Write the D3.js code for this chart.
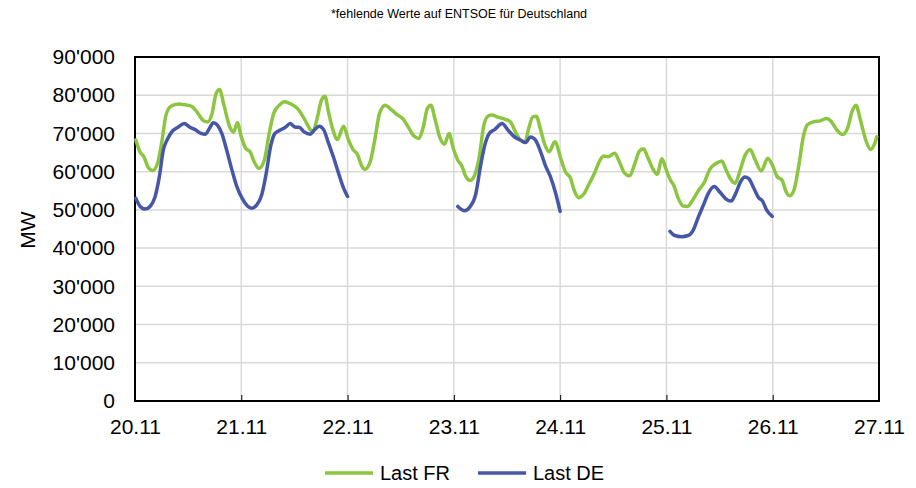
<!DOCTYPE html>
<html>
<head>
<meta charset="utf-8">
<script src="https://cdn.jsdelivr.net/npm/d3@7"></script>
<style>
  body { margin: 0; background: #fff; }
  svg { font-family: "Liberation Sans", Arial, sans-serif; }
</style>
</head>
<body>
<svg id="chart" width="916" height="488"></svg>
<script>
// hours since 20.11 00:00, load in 1000 MW
var dayLabels = ['20.11', '21.11', '22.11', '23.11', '24.11', '25.11', '26.11', '27.11']
var yTicks = [0, 10, 20, 30, 40, 50, 60, 70, 80, 90]

var frHours = [0.2, 1.1, 2.0, 3.0, 4.0, 5.1, 6.0, 7.0, 8.1, 9.8, 11.3, 12.8, 14.0, 15.5, 16.4, 17.4, 18.3, 19.1, 20.0, 21.4, 22.3, 23.1,
  24.0, 25.0, 26.0, 26.9, 28.0, 29.2, 30.3, 31.3, 32.6, 33.7, 35.2, 36.7, 38.2, 39.6, 40.1, 41.2, 42.1, 42.9, 43.6, 44.6, 45.7, 47.1,
  48.2, 49.3, 50.2, 51.2, 51.9, 53.1, 54.2, 55.2, 56.5, 57.6, 59.1, 60.6, 61.7, 63.0, 64.0, 65.1, 66.0, 66.8, 67.8, 68.9, 69.9, 70.9,
  71.9, 72.9, 73.8, 74.7, 75.7, 76.7, 77.8, 78.7, 79.5, 80.5, 82.1, 83.6, 84.8, 85.9, 87.0, 88.0, 88.9, 89.8, 90.6, 91.6, 92.5, 93.5, 94.8,
  96.2, 97.2, 98.3, 99.2, 100.2, 101.3, 102.5, 103.8, 104.7, 105.8, 106.8, 108.3, 109.3, 110.5, 111.7, 112.8, 113.9, 114.8, 115.8, 117.0, 117.9, 119.0,
  119.8, 120.8, 121.7, 122.6, 123.8, 124.8, 125.8, 127.2, 128.5, 129.8, 131.3, 132.5, 133.4, 134.3, 135.5, 136.6, 137.7, 138.9, 140.0, 141.4, 142.9,
  144.0, 145.0, 146.1, 147.0, 147.8, 148.8, 149.9, 150.9, 151.8, 153.1, 154.7, 156.2, 157.3, 158.5, 159.8, 161.0, 161.9, 162.8, 163.8, 165.0, 166.1, 166.9, 167.5]
var frLoad = [68.3, 65.2, 63.9, 61.1, 60.3, 62.2, 67.4, 74.8, 77.1, 77.7, 77.5, 77.1, 75.6, 73.3, 73.0, 75.2, 80.4, 81.5, 77.8, 71.7, 70.4, 72.8,
  69.1, 66.1, 65.2, 62.6, 60.9, 63.0, 70.0, 75.2, 77.4, 78.3, 77.7, 76.5, 73.9, 71.0, 70.4, 74.3, 78.7, 79.7, 76.1, 71.3, 68.4, 71.9,
  68.3, 65.7, 64.6, 61.5, 60.6, 62.6, 68.7, 75.2, 77.4, 76.5, 75.0, 73.7, 71.7, 69.3, 68.7, 71.7, 76.5, 77.4, 73.5, 68.7, 67.2, 70.0,
  66.0, 63.0, 61.5, 58.7, 57.7, 59.1, 64.3, 71.7, 74.3, 74.8, 74.2, 73.7, 73.0, 70.4, 68.3, 67.6, 71.3, 74.3, 74.5, 70.9, 67.2, 65.2, 67.8,
  63.2, 59.9, 58.4, 55.0, 53.2, 54.1, 56.7, 59.7, 62.3, 64.1, 63.9, 64.8, 62.8, 59.7, 58.9, 61.9, 65.4, 66.0, 63.7, 60.6, 59.3, 63.4,
  61.0, 58.0, 56.3, 53.2, 51.0, 50.9, 52.3, 55.0, 57.1, 60.6, 62.2, 62.8, 60.6, 58.4, 57.0, 60.2, 64.1, 65.8, 63.2, 60.2, 63.5,
  61.5, 58.7, 57.8, 54.8, 53.7, 55.2, 61.7, 69.1, 72.2, 73.0, 73.3, 73.9, 73.0, 70.9, 69.7, 71.7, 75.7, 77.4, 73.5, 68.3, 65.8, 67.0, 69.1]

// null = missing on ENTSOE
var deHours = [0.2, 1.1, 2.3, 3.4, 4.5, 5.5, 6.4, 7.3, 8.3, 9.8, 11.1, 12.3, 13.6, 14.9, 15.9, 16.8, 17.7, 18.6, 19.6, 20.8, 21.9, 23.0,
  24.2, 25.4, 26.3, 27.5, 28.6, 29.5, 30.7, 31.6, 32.8, 34.1, 35.0, 36.1, 37.1, 38.2, 39.6, 40.5, 41.6, 42.6, 43.6, 44.9, 46.1, 47.1, 48.0,
  60,
  72.9, 74.4, 75.7, 76.9, 78.0, 79.0, 80.0, 81.2, 82.9, 84.2, 85.8, 87.0, 88.2, 89.3, 90.4, 91.6, 92.7, 93.8, 95.0, 96.0,
  108,
  120.8, 121.9, 123.4, 124.9, 126.0, 127.2, 128.3, 129.4, 130.8, 132.1, 133.4, 134.6, 135.6, 136.8, 137.7, 138.6, 139.6, 140.8, 141.7, 142.6, 143.9]
var deLoad = [53.0, 51.0, 50.2, 50.9, 53.3, 58.7, 65.7, 68.4, 70.4, 71.7, 72.6, 71.7, 71.0, 70.0, 69.8, 71.3, 72.8, 72.2, 70.0, 65.2, 60.4, 56.1,
  53.0, 51.0, 50.4, 51.3, 53.9, 58.7, 67.0, 70.0, 70.9, 71.7, 72.6, 71.7, 71.6, 70.4, 69.8, 70.9, 71.9, 71.0, 67.8, 63.5, 59.1, 55.7, 53.5,
  null,
  50.9, 49.8, 50.9, 53.9, 61.3, 67.0, 70.0, 71.0, 72.6, 70.9, 69.0, 68.3, 67.6, 69.1, 68.3, 65.2, 61.5, 58.7, 54.3, 49.6,
  null,
  44.4, 43.3, 43.0, 43.3, 44.6, 48.1, 51.1, 54.2, 56.1, 54.6, 52.9, 52.3, 54.2, 57.5, 58.6, 58.2, 56.0, 53.2, 52.3, 50.0, 48.3]

var series = [
  {name: 'Last FR', color: '#8cc540', hours: frHours, load: frLoad},
  {name: 'Last DE', color: '#4657a6', hours: deHours, load: deLoad}
]

var svg = d3.select('#chart')
var m = {left: 135, right: 879, top: 57, bottom: 401}

var x = d3.scaleLinear().domain([0, 168]).range([m.left, m.right])
var y = d3.scaleLinear().domain([0, 90]).range([m.bottom, m.top])

var fmt = function(v) { return d3.format(',')(v * 1000).replace(/,/g, "'") }

svg.append('text')
  .attr('x', 459).attr('y', 18)
  .attr('text-anchor', 'middle')
  .style('font-size', '12.5px')
  .text('*fehlende Werte auf ENTSOE für Deutschland')

// grid
svg.append('g').selectAll('line.h')
  .data(yTicks.slice(1))
  .enter().append('line')
  .attr('x1', m.left).attr('x2', m.right)
  .attr('y1', function(d) { return y(d) }).attr('y2', function(d) { return y(d) })
  .attr('stroke', '#d9d9d9').attr('stroke-width', 1.5)

svg.append('g').selectAll('line.v')
  .data(dayLabels.slice(1, -1))
  .enter().append('line')
  .attr('x1', function(d, i) { return x((i + 1) * 24) }).attr('x2', function(d, i) { return x((i + 1) * 24) })
  .attr('y1', m.top).attr('y2', m.bottom)
  .attr('stroke', '#d9d9d9').attr('stroke-width', 1.5)

// axes
var xAxis = svg.append('g')
  .attr('transform', 'translate(0,' + m.bottom + ')')
  .call(d3.axisBottom(x).tickValues(d3.range(0, 169, 24)).tickSize(-6)
    .tickFormat(function(d) { return dayLabels[d / 24] }))
xAxis.select('.domain').remove()
xAxis.selectAll('line').attr('stroke', '#000')
xAxis.selectAll('text')
  .attr('y', 18).attr('fill', '#000')
  .style('font-size', '21px').style('font-family', '"Liberation Sans", Arial, sans-serif')

var yAxis = svg.append('g')
  .attr('transform', 'translate(' + m.left + ',0)')
  .call(d3.axisLeft(y).tickValues(yTicks).tickSize(0).tickFormat(fmt))
yAxis.select('.domain').remove()
yAxis.selectAll('text')
  .attr('x', -20).attr('fill', '#000')
  .style('font-size', '21px').style('font-family', '"Liberation Sans", Arial, sans-serif')

svg.append('rect')
  .attr('x', m.left).attr('y', m.top)
  .attr('width', m.right - m.left).attr('height', m.bottom - m.top)
  .attr('fill', 'none').attr('stroke', '#000').attr('stroke-width', 2)

svg.append('text')
  .attr('transform', 'translate(35,230) rotate(-90)')
  .attr('text-anchor', 'middle')
  .style('font-size', '21px')
  .text('MW')

// lines
var line = d3.line()
  .defined(function(d) { return d.v != null })
  .x(function(d) { return x(d.h) })
  .y(function(d) { return y(d.v) })
  .curve(d3.curveMonotoneX)

series.forEach(function(s) {
  var pts = s.hours.map(function(h, i) { return {h: h, v: s.load[i]} })
  svg.append('path')
    .datum(pts)
    .attr('d', line)
    .attr('fill', 'none')
    .attr('stroke', s.color)
    .attr('stroke-width', 3.5)
    .attr('stroke-linejoin', 'round')
    .attr('stroke-linecap', 'round')
})

// legend
var leg = svg.append('g').selectAll('g')
  .data(series)
  .enter().append('g')
  .attr('transform', function(d, i) { return 'translate(' + (325 + i * 153) + ',473)' })
leg.append('line')
  .attr('x1', 0).attr('x2', 48)
  .attr('stroke', function(d) { return d.color })
  .attr('stroke-width', 3.5)
leg.append('text')
  .attr('x', 55).attr('y', 7)
  .style('font-size', '20px')
  .text(function(d) { return d.name })
</script>
</body>
</html>
